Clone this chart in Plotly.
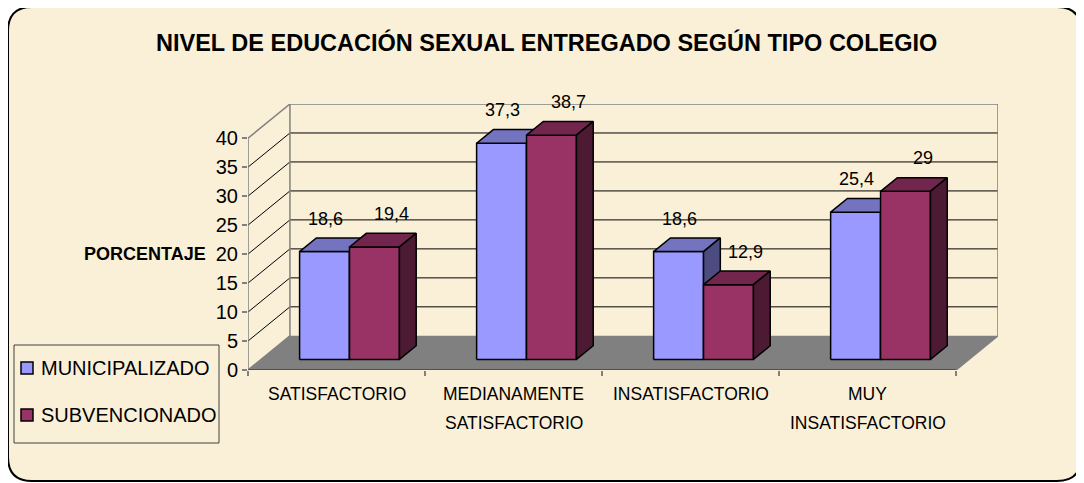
import plotly.graph_objects as go

# ---------------- data ----------------
categories = [["SATISFACTORIO"], ["MEDIANAMENTE", "SATISFACTORIO"],
              ["INSATISFACTORIO"], ["MUY", "INSATISFACTORIO"]]
series_names = ["MUNICIPALIZADO", "SUBVENCIONADO"]
municipalizado = [18.6, 37.3, 18.6, 25.4]
subvencionado = [19.4, 38.7, 12.9, 29.0]
value_labels_mun = ["18,6", "37,3", "18,6", "25,4"]
value_labels_sub = ["19,4", "38,7", "12,9", "29"]
y_ticks = [0, 5, 10, 15, 20, 25, 30, 35, 40]
title_text = "NIVEL DE EDUCACIÓN SEXUAL ENTREGADO SEGÚN TIPO COLEGIO"
y_title = "PORCENTAJE"

# ---------------- styling / geometry ----------------
OFF = 8                          # page body margin
W, H = 1084 - OFF, 483 - OFF     # figure size
PLOT_LEFT, PLOT_RIGHT, PLOT_TOP, PLOT_BOTTOM = 248, 998, 104, 370   # page pixels
L = PLOT_LEFT - OFF
R = W - (PLOT_RIGHT - OFF)
T = PLOT_TOP - OFF
B = H - (PLOT_BOTTOM - OFF)
PW, PH = W - L - R, H - T - B
YMAX = 40
DX, DY = 0.237, 5.9          # depth offset in axis units (x: category, y: value)
Z0, Z1 = 0.31, 0.71          # bar depth span
BW = 0.282                   # bar width (category units)
FONT = "Liberation Sans, Arial, sans-serif"

colors = {
    "MUNICIPALIZADO": ("#9999FF", "#7373C0", "#4C4C80"),
    "SUBVENCIONADO": ("#993366", "#73264D", "#4D1A33"),
}
CREAM = "#FAF0D8"


def P(x, y, z):
    return x + z * DX, y + z * DY


def px2x(px):
    return (px - OFF - L) / PW


def py2y(py):
    return (H - B - (py - OFF)) / PH


fig = go.Figure()

shapes = []
# frame (rounded rectangle)
fx0, fy0, fx1, fy1, rr = 8, 7, 1081, 481, 24
pts = lambda a, b: f"{px2x(a)},{py2y(b)}"
frame_path = (f"M {pts(fx0+rr, fy0)} L {pts(fx1-rr, fy0)} Q {pts(fx1, fy0)} {pts(fx1, fy0+rr)} "
              f"L {pts(fx1, fy1-rr)} Q {pts(fx1, fy1)} {pts(fx1-rr, fy1)} "
              f"L {pts(fx0+rr, fy1)} Q {pts(fx0, fy1)} {pts(fx0, fy1-rr)} "
              f"L {pts(fx0, fy0+rr)} Q {pts(fx0, fy0)} {pts(fx0+rr, fy0)} Z")
shapes.append(dict(type="path", xref="paper", yref="paper", path=frame_path,
                   line=dict(color="black", width=2), fillcolor=CREAM, layer="below"))

ncat = len(categories)


def dpath(points):
    return "M " + " L ".join(f"{a},{b}" for a, b in points) + " Z"


# floor
floor = [P(0, 0, 0), P(ncat, 0, 0), P(ncat, 0, 1), P(0, 0, 1)]
shapes.append(dict(type="path", xref="x", yref="y", path=dpath(floor),
                   fillcolor="#808080", line=dict(width=0), layer="below"))

# gridlines on back wall and left wall
for v in y_ticks[1:-1]:
    a, b = P(0, v, 1)
    c, d = P(ncat, v, 1)
    shapes.append(dict(type="line", xref="x", yref="y", x0=a, y0=b, x1=c, y1=d,
                       line=dict(color="black", width=1), layer="below"))
    e, f = P(0, v, 0)
    shapes.append(dict(type="line", xref="x", yref="y", x0=e, y0=f, x1=a, y1=b,
                       line=dict(color="black", width=1), layer="below"))
# wall edges
wall = [P(0, 0, 0), P(0, 0, 1), P(0, YMAX, 1), P(ncat, YMAX, 1), P(ncat, 0, 1)]
shapes.append(dict(type="path", xref="x", yref="y",
                   path="M " + " L ".join(f"{a},{b}" for a, b in wall),
                   line=dict(color="#808080", width=1.5), layer="below"))
for (p0, p1) in [(P(0, YMAX, 0), P(0, YMAX, 1)), (P(ncat, 0, 0), P(ncat, 0, 1))]:
    shapes.append(dict(type="line", xref="x", yref="y", x0=p0[0], y0=p0[1], x1=p1[0], y1=p1[1],
                       line=dict(color="#808080", width=1.5), layer="below"))
# front y axis line
shapes.append(dict(type="line", xref="x", yref="y", x0=0, y0=0, x1=0, y1=YMAX,
                   line=dict(color="#808080", width=1.5), layer="below"))
# front floor edge
shapes.append(dict(type="line", xref="x", yref="y", x0=0, y0=0, x1=ncat, y1=0,
                   line=dict(color="#404040", width=1.5), layer="below"))


def add_poly(points, color):
    xs = [p[0] for p in points] + [points[0][0]]
    ys = [p[1] for p in points] + [points[0][1]]
    fig.add_trace(go.Scatter(x=xs, y=ys, mode="lines", fill="toself", fillcolor=color,
                             line=dict(color="black", width=1.5), hoverinfo="skip",
                             showlegend=False))


annotations = []
for i in range(ncat):
    c = i + 0.5
    for s, (name, vals, labs) in enumerate([(series_names[0], municipalizado, value_labels_mun),
                                             (series_names[1], subvencionado, value_labels_sub)]):
        v = vals[i]
        x0 = c - BW + s * BW
        x1 = x0 + BW
        front_c, top_c, side_c = colors[name]
        add_poly([P(x0, 0, Z0), P(x1, 0, Z0), P(x1, v, Z0), P(x0, v, Z0)], front_c)
        add_poly([P(x0, v, Z0), P(x1, v, Z0), P(x1, v, Z1), P(x0, v, Z1)], top_c)
        add_poly([P(x1, 0, Z0), P(x1, 0, Z1), P(x1, v, Z1), P(x1, v, Z0)], side_c)
        lx, ly = P((x0 + x1) / 2, v, Z0)
        annotations.append(dict(x=lx, y=ly, xref="x", yref="y", text=labs[i], showarrow=False,
                                xanchor="center", yanchor="middle", yshift=33,
                                xshift=1 if s == 0 else 17,
                                font=dict(family=FONT, size=18, color="black")))

# category labels
for i, lines in enumerate(categories):
    for j, line in enumerate(lines):
        annotations.append(dict(x=i + 0.5, y=0, xref="x", yref="y", text=line, showarrow=False,
                                xanchor="center", yanchor="middle", yshift=-24 - 29 * j,
                                font=dict(family=FONT, size=17.5, color="black")))

# title
annotations.append(dict(x=px2x(546), y=py2y(42), xref="paper", yref="paper", text=f"<b>{title_text}</b>",
                        showarrow=False, xanchor="center", yanchor="middle",
                        font=dict(family=FONT, size=23.5, color="black")))
# y axis title
annotations.append(dict(x=px2x(208), y=py2y(254), xref="paper", yref="paper", text=f"<b>{y_title}</b>",
                        showarrow=False, xanchor="right", yanchor="middle",
                        font=dict(family=FONT, size=18, color="black")))

# legend (drawn manually)
shapes.append(dict(type="rect", xref="paper", yref="paper", x0=px2x(14), y0=py2y(345),
                   x1=px2x(219), y1=py2y(443), line=dict(color="#404040", width=1),
                   fillcolor="rgba(0,0,0,0)"))
for k, (name, cy) in enumerate(zip(series_names, [368, 415])):
    shapes.append(dict(type="rect", xref="paper", yref="paper", x0=px2x(21), y0=py2y(cy - 6),
                       x1=px2x(33), y1=py2y(cy + 6), line=dict(color="black", width=1.5),
                       fillcolor=colors[name][0]))
    annotations.append(dict(x=px2x(39), y=py2y(cy), xref="paper", yref="paper", text=name,
                            showarrow=False, xanchor="left", yanchor="middle",
                            font=dict(family=FONT, size=20, color="black")))

fig.update_layout(
    width=W, height=H,
    margin=dict(l=L, r=R, t=T, b=B, pad=0),
    paper_bgcolor="white", plot_bgcolor="rgba(0,0,0,0)",
    showlegend=False,
    shapes=shapes, annotations=annotations,
    xaxis=dict(range=[0, ncat + DX], showgrid=False, zeroline=False, showline=False,
               tickvals=list(range(ncat + 1)), ticktext=[""] * (ncat + 1),
               ticks="outside", ticklen=5, tickcolor="#808080", tickwidth=1.5, fixedrange=True),
    yaxis=dict(range=[0, YMAX + DY], showgrid=False, zeroline=False, showline=False,
               tickvals=y_ticks, ticktext=[str(t) for t in y_ticks],
               ticks="outside", ticklen=5, tickcolor="#808080", tickwidth=1.5,
               tickfont=dict(family=FONT, size=20, color="black"), fixedrange=True),
)

fig.write_html("out.html")
